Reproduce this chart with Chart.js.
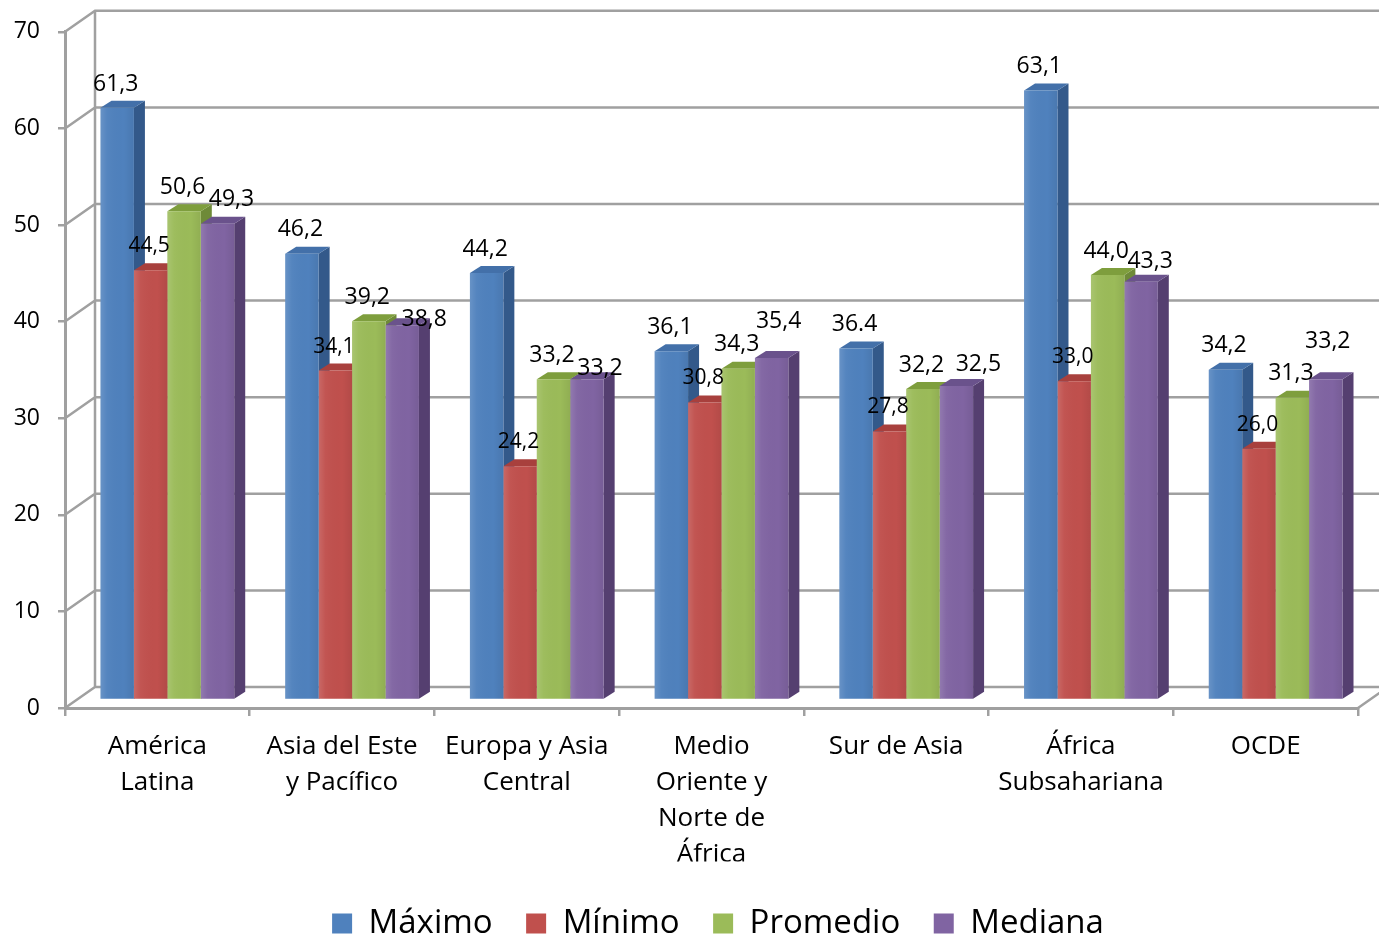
<!DOCTYPE html>
<html lang="es">
<head>
<meta charset="utf-8">
<title>Máximo, mínimo, promedio y mediana por región</title>
<script src="https://cdn.jsdelivr.net/npm/chart.js@4.4.1/dist/chart.umd.min.js"></script>
<style>
  html, body { margin: 0; padding: 0; background: #ffffff; }
  #wrap { width: 1379px; height: 938px; }
</style>
</head>
<body>
<div id="wrap"><canvas id="chart" width="1379" height="938"></canvas></div>
<script>
// ---- data ----
const categories = [
  ['América', 'Latina'],
  ['Asia del Este', 'y Pacífico'],
  ['Europa y Asia', 'Central'],
  ['Medio', 'Oriente y', 'Norte de', 'África'],
  ['Sur de Asia'],
  ['África', 'Subsahariana'],
  ['OCDE']
];
const seriesNames = ['Máximo', 'Mínimo', 'Promedio', 'Mediana'];
const maximo   = [61.3, 46.2, 44.2, 36.1, 36.4, 63.1, 34.2];
const minimo   = [44.5, 34.1, 24.2, 30.8, 27.8, 33.0, 26.0];
const promedio = [50.6, 39.2, 33.2, 34.3, 32.2, 44.0, 31.3];
const mediana  = [49.3, 38.8, 33.2, 35.4, 32.5, 43.3, 33.2];
const yTicks   = [0, 10, 20, 30, 40, 50, 60, 70];
// value labels printed with a decimal point instead of a comma: [series, category]
const pointDecimalLabels = [[0, 4]];

// ---- styling ----
const FONT = '"Open Sans", "DejaVu Sans", sans-serif';
const GRID = '#a0a0a0';
const faces = [
  { front: '#4f81bd', top: '#4370a9', side: '#33598a' },
  { front: '#c0504d', top: '#a8403d', side: '#8c3634' },
  { front: '#9bbb59', top: '#7e9e3d', side: '#6e8a38' },
  { front: '#8064a2', top: '#6a528c', side: '#553f70' }
];
const BAR_SHIFT = { x: 10, y: -8 };   // bars stand in the middle of the floor depth
const BAR_DEPTH = { x: 11, y: -7 };   // visible depth of each bar
const WALL      = { x: 30, y: -21 };  // back wall offset from the front plane
const LEGEND_SHIFT = { x: 39, y: 12 };
const PLOT_BOTTOM = 708;

// value label placement relative to the bar top (default and per-bar nudges)
const labelDefault = [-1.5, -25.5];
const labelNudge = {
  3: [[14, -25.5], [22, -7], [13, -12.4], [7, -38], [22, -23.7], [9, -21.6], [2, -39]]
};
const labelFontSize = [23, 21, 23, 23];

function formatValue(v, s, i) {
  const txt = v.toFixed(1);
  const usePoint = pointDecimalLabels.some(p => p[0] === s && p[1] === i);
  return usePoint ? txt : txt.replace('.', ',');
}

const seriesValues = [maximo, minimo, promedio, mediana];

const depthPlugin = {
  id: 'depth3d',
  afterLayout(chart) {
    const lg = chart.legend;
    lg.left += LEGEND_SHIFT.x; lg.right += LEGEND_SHIFT.x;
    lg.top += LEGEND_SHIFT.y; lg.bottom += LEGEND_SHIFT.y;
  },
  beforeDatasetsDraw(chart) {
    const { ctx, chartArea, scales: { y } } = chart;
    ctx.save();
    // back wall grid and floor edges
    ctx.strokeStyle = GRID;
    ctx.lineWidth = 2.5;
    ctx.lineCap = 'butt';
    ctx.beginPath();
    y.ticks.forEach(t => {
      const py = y.getPixelForValue(t.value);
      ctx.moveTo(chartArea.left, py);
      ctx.lineTo(chartArea.left + WALL.x, py + WALL.y);
      ctx.lineTo(chart.width, py + WALL.y);
    });
    ctx.moveTo(chartArea.left + WALL.x, y.getPixelForValue(y.max) + WALL.y);
    ctx.lineTo(chartArea.left + WALL.x, y.getPixelForValue(y.min) + WALL.y);
    ctx.moveTo(chartArea.right, chartArea.bottom);
    ctx.lineTo(chartArea.right + WALL.x, chartArea.bottom + WALL.y);
    ctx.stroke();

    // side and top faces, left to right
    const metas = chart.data.datasets.map((d, s) => chart.getDatasetMeta(s));
    const n = chart.data.labels.length;
    for (let i = 0; i < n; i++) {
      metas.forEach((meta, s) => {
        const el = meta.data[i];
        const L = el.x - el.width / 2 + BAR_SHIFT.x;
        const R = el.x + el.width / 2 + BAR_SHIFT.x;
        const T = el.y + BAR_SHIFT.y;
        const B = el.base + BAR_SHIFT.y;
        ctx.fillStyle = faces[s].side;
        ctx.beginPath();
        ctx.moveTo(R, T);
        ctx.lineTo(R + BAR_DEPTH.x, T + BAR_DEPTH.y);
        ctx.lineTo(R + BAR_DEPTH.x, B + BAR_DEPTH.y);
        ctx.lineTo(R, B);
        ctx.closePath();
        ctx.fill();
        ctx.fillStyle = faces[s].top;
        ctx.beginPath();
        ctx.moveTo(L, T);
        ctx.lineTo(L + BAR_DEPTH.x, T + BAR_DEPTH.y);
        ctx.lineTo(R + BAR_DEPTH.x, T + BAR_DEPTH.y);
        ctx.lineTo(R, T);
        ctx.closePath();
        ctx.fill();
      });
    }
    ctx.restore();
    // front faces are drawn by Chart.js inside this shifted frame
    ctx.save();
    ctx.translate(BAR_SHIFT.x, BAR_SHIFT.y);
  },
  afterDatasetsDraw(chart) {
    const { ctx } = chart;
    // soft shading across each front face
    chart.data.datasets.forEach((ds, s) => {
      chart.getDatasetMeta(s).data.forEach(el => {
        const L = el.x - el.width / 2, R = el.x + el.width / 2;
        const g = ctx.createLinearGradient(L, 0, R, 0);
        g.addColorStop(0, 'rgba(255,255,255,0.14)');
        g.addColorStop(0.2, 'rgba(255,255,255,0.03)');
        g.addColorStop(0.7, 'rgba(0,0,0,0)');
        g.addColorStop(1, 'rgba(0,0,0,0.07)');
        ctx.fillStyle = g;
        ctx.fillRect(L, el.y, R - L, el.base - el.y);
      });
    });
    ctx.restore();

    ctx.save();
    ctx.fillStyle = '#000000';
    ctx.textAlign = 'center';
    ctx.textBaseline = 'alphabetic';
    chart.data.datasets.forEach((ds, s) => {
      const meta = chart.getDatasetMeta(s);
      const size = labelFontSize[s];
      ctx.font = size + 'px ' + FONT;
      meta.data.forEach((el, i) => {
        const off = (labelNudge[s] && labelNudge[s][i]) || labelDefault;
        const cx = el.x + BAR_SHIFT.x + off[0];
        const cy = el.y + BAR_SHIFT.y + off[1];
        ctx.fillText(formatValue(ds.data[i], s, i), cx, cy + size * 0.357);
      });
    });
    ctx.restore();
  }
};

Chart.defaults.font.family = FONT;

new Chart(document.getElementById('chart'), {
  type: 'bar',
  data: {
    labels: categories,
    datasets: seriesNames.map((name, s) => ({
      label: name,
      data: seriesValues[s],
      backgroundColor: faces[s].front,
      borderWidth: 0,
      categoryPercentage: 0.724,
      barPercentage: 1.0
    }))
  },
  options: {
    responsive: false,
    animation: false,
    events: [],
    layout: { padding: { top: 30, right: 21, left: 0, bottom: 0 } },
    plugins: {
      tooltip: { enabled: false },
      legend: {
        position: 'bottom',
        labels: {
          color: '#000000',
          font: { family: FONT, size: 33 },
          boxWidth: 20,
          boxHeight: 20,
          padding: 33.5
        }
      }
    },
    scales: {
      x: {
        offset: true,
        grid: { display: true, offset: true, drawOnChartArea: false, drawTicks: true, tickLength: 8, color: GRID, lineWidth: 2.5 },
        border: { display: true, color: GRID, width: 3 },
        ticks: { color: '#000000', font: { family: FONT, size: 26, lineHeight: 1.385 }, padding: 13, maxRotation: 0, minRotation: 0, autoSkip: false },
        afterFit(scale) {
          scale.height = scale.chart.height - scale.chart.legend.height - PLOT_BOTTOM;
        }
      },
      y: {
        min: 0,
        max: 70,
        afterBuildTicks(scale) { scale.ticks = yTicks.map(v => ({ value: v })); },
        grid: { drawOnChartArea: false, drawTicks: true, tickLength: 7, color: GRID, lineWidth: 2.5 },
        border: { display: true, color: GRID, width: 3 },
        ticks: { color: '#000000', font: { family: FONT, size: 23 }, padding: 18 },
        afterFit(scale) { scale.width = 65; }
      }
    }
  },
  plugins: [depthPlugin]
});
</script>
</body>
</html>
